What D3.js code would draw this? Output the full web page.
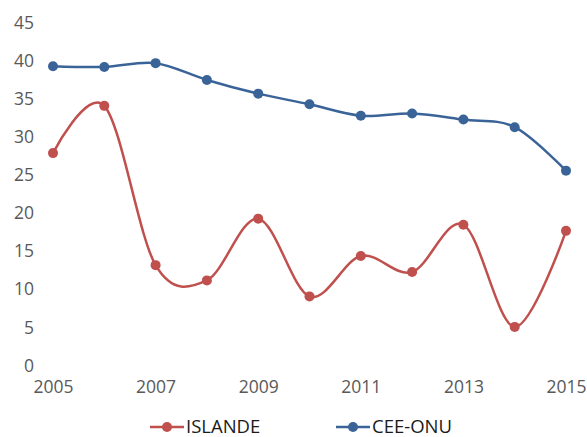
<!DOCTYPE html>
<html lang="fr">

<head>
  <meta charset="UTF-8">
  <script src="https://d3js.org/d3.v7.min.js"></script>
  <style>
    html, body {
      padding: 0px;
      margin: 0px;
      background-color: white;
    }

    .tick text {
      font-family: "Open Sans", sans-serif;
      fill: #595959;
    }

    .legend text {
      font-family: "Open Sans", sans-serif;
      fill: #1a1a1a;
    }
  </style>
</head>

<body>
  <svg id="plot-svg" width="587" height="437"></svg>

  <script>
    // data
    const years = [2005, 2006, 2007, 2008, 2009, 2010, 2011, 2012, 2013, 2014, 2015];
    const islande = [27.8, 34.0, 13.1, 11.1, 19.2, 9.0, 14.3, 12.2, 18.4, 5.0, 17.6];
    const ceeOnu = [39.2, 39.1, 39.6, 37.4, 35.6, 34.2, 32.7, 33.0, 32.2, 31.2, 25.5];
    const xTickYears = [2005, 2007, 2009, 2011, 2013, 2015];
    const yTicks = [0, 5, 10, 15, 20, 25, 30, 35, 40, 45];

    const series = [
      { name: "ISLANDE", values: islande, color: "#C0504D" },
      { name: "CEE-ONU", values: ceeOnu, color: "#3A6397" }
    ];

    const svg = d3.select("#plot-svg");
    const margin = { top: 22, right: 21, bottom: 72, left: 53 };
    const width = +svg.attr("width");
    const height = +svg.attr("height");

    const x = d3.scaleLinear().domain([2005, 2015]).range([margin.left, width - margin.right]);
    const y = d3.scaleLinear().domain([0, 45]).range([height - margin.bottom, margin.top]);

    // y axis labels only, no line
    const leftAxis = d3.axisLeft(y).tickValues(yTicks).tickSize(0).tickPadding(0);
    svg.append("g")
      .attr("transform", "translate(34, 0)")
      .call(leftAxis)
      .call(g => g.select(".domain").remove())
      .selectAll("text").style("font-size", "17.5px").attr("dy", "0.35em");

    const bottomAxis = d3.axisBottom(x).tickValues(xTickYears).tickFormat(d3.format("d")).tickSize(0).tickPadding(0);
    svg.append("g")
      .attr("transform", `translate(0, ${height - margin.bottom + 16})`)
      .call(bottomAxis)
      .call(g => g.select(".domain").remove())
      .selectAll("text").style("font-size", "17.5px");

    // smoothed lines similar to the spreadsheet's smoothing
    const line = d3.line()
      .x((d, i) => x(years[i]))
      .y(d => y(d))
      .curve(d3.curveCatmullRom.alpha(0));

    for (const s of series) {
      svg.append("path")
        .datum(s.values)
        .attr("fill", "none")
        .attr("stroke", s.color)
        .attr("stroke-width", 2.5)
        .attr("d", line);

      svg.selectAll(null)
        .data(s.values)
        .join("circle")
        .attr("cx", (d, i) => x(years[i]))
        .attr("cy", d => y(d))
        .attr("r", 5)
        .attr("fill", s.color);
    }

    // legend at bottom
    const legend = svg.append("g").attr("class", "legend");
    const legendX = [150, 336];
    series.forEach((s, i) => {
      const g = legend.append("g").attr("transform", `translate(${legendX[i]}, 427)`);
      g.append("line").attr("x1", 0).attr("x2", 34).attr("y1", 0).attr("y2", 0)
        .attr("stroke", s.color).attr("stroke-width", 2.5);
      g.append("circle").attr("cx", 17).attr("cy", 0).attr("r", 5).attr("fill", s.color);
      g.append("text").attr("x", 36).attr("y", 0).attr("dy", "0.35em")
        .style("font-size", "18.5px").text(s.name);
    });
  </script>
</body>

</html>
